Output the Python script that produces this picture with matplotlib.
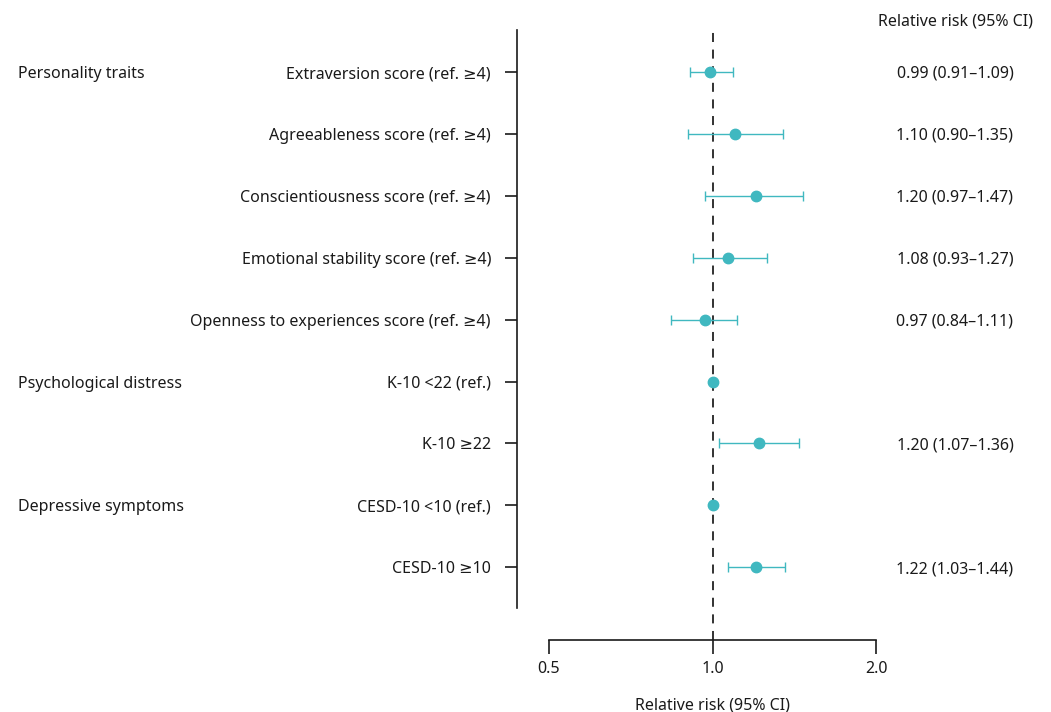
#!/usr/bin/env python3
"""Forest plot of relative risks for personality traits and distress measures."""

import matplotlib.pyplot as plt
import numpy as np
from matplotlib.ticker import FixedLocator, NullLocator

plt.rcParams["font.family"] = ["Noto Sans", "DejaVu Sans"]

items = [
    "Extraversion score (ref. \u22654)",
    "Agreeableness score (ref. \u22654)",
    "Conscientiousness score (ref. \u22654)",
    "Emotional stability score (ref. \u22654)",
    "Openness to experiences score (ref. \u22654)",
    "K-10 <22 (ref.)",
    "K-10 \u226522",
    "CESD-10 <10 (ref.)",
    "CESD-10 \u226510",
]
groups = {0: "Personality traits", 5: "Psychological distress", 7: "Depressive symptoms"}
# point estimates and CI as drawn in the picture
rr = [0.99, 1.10, 1.20, 1.07, 0.97, 1.00, 1.22, 1.00, 1.20]
lo = [0.91, 0.90, 0.97, 0.92, 0.84, np.nan, 1.03, np.nan, 1.07]
hi = [1.09, 1.35, 1.47, 1.26, 1.11, np.nan, 1.44, np.nan, 1.36]
# right-hand column text as printed
ci_text = [
    "0.99 (0.91\u20131.09)",
    "1.10 (0.90\u20131.35)",
    "1.20 (0.97\u20131.47)",
    "1.08 (0.93\u20131.27)",
    "0.97 (0.84\u20131.11)",
    "",
    "1.20 (1.07\u20131.36)",
    "",
    "1.22 (1.03\u20131.44)",
]

TEAL = "#40b8c0"
INK = "#1a1a1a"
W, H = 1051, 712
PX = 72 / 100  # points per pixel at dpi 100


def main() -> None:
    fig = plt.figure(figsize=(W / 100, H / 100), dpi=100)
    # axes in pixel coordinates: x 549..876, y 30..608
    ax = fig.add_axes([549 / W, 1 - 608 / H, (876 - 549) / W, (608 - 30) / H])
    n = len(items)
    y = np.arange(n)
    ax.set_xscale("log")
    ax.set_xlim(0.5, 2.0)
    ax.set_ylim(8.66, -0.68)

    rr_a = np.array(rr)
    lo_a = np.array(lo)
    hi_a = np.array(hi)
    has_ci = ~np.isnan(lo_a)
    ax.errorbar(
        rr_a[has_ci], y[has_ci],
        xerr=[rr_a[has_ci] - lo_a[has_ci], hi_a[has_ci] - rr_a[has_ci]],
        fmt="none", ecolor=TEAL, elinewidth=1.0, capsize=3.3, capthick=1.0, zorder=3,
    )
    ax.plot(rr_a, y, "o", color=TEAL, ms=7.5, zorder=4, clip_on=False)

    ax.axvline(1.0, ymin=-32 / 578, ymax=1.0, color="#222222", lw=1.3,
               ls=(0, (5, 4.2)), clip_on=False, zorder=2)

    for s in ("top", "right"):
        ax.spines[s].set_visible(False)
    ax.spines["left"].set_position(("outward", 32 * PX))
    ax.spines["bottom"].set_position(("outward", 32 * PX))
    ax.spines["bottom"].set_bounds(0.5, 2.0)
    for s in ("left", "bottom"):
        ax.spines[s].set_linewidth(1.2)
        ax.spines[s].set_color(INK)

    ax.xaxis.set_major_locator(FixedLocator([0.5, 1.0, 2.0]))
    ax.xaxis.set_minor_locator(NullLocator())
    ax.set_xticklabels(["0.5", "1.0", "2.0"])
    ax.set_yticks(y)
    ax.set_yticklabels(items)
    ax.tick_params(axis="both", colors=INK, labelsize=11.5, width=1.2)
    ax.tick_params(axis="x", length=14 * PX, pad=5)
    ax.tick_params(axis="y", length=12 * PX, pad=14 * PX)
    ax.set_xlabel("Relative risk (95% CI)", fontsize=11.5, color=INK, labelpad=15)

    for i, name in groups.items():
        ax.text(18 / W, 1 - (72 + i * 61.9) / H, name, transform=fig.transFigure,
                ha="left", va="center_baseline", fontsize=11.5, color=INK)

    fig.text(955 / W, 1 - 19 / H, "Relative risk (95% CI)", ha="center",
             va="center_baseline", fontsize=11.5, color=INK)
    for i in range(n):
        if ci_text[i]:
            fig.text(955 / W, 1 - (72 + i * 61.9) / H, ci_text[i],
                     ha="center", va="center_baseline", fontsize=11.5, color=INK)

    fig.savefig("out.png", dpi=100)
    plt.close(fig)


if __name__ == "__main__":
    main()
